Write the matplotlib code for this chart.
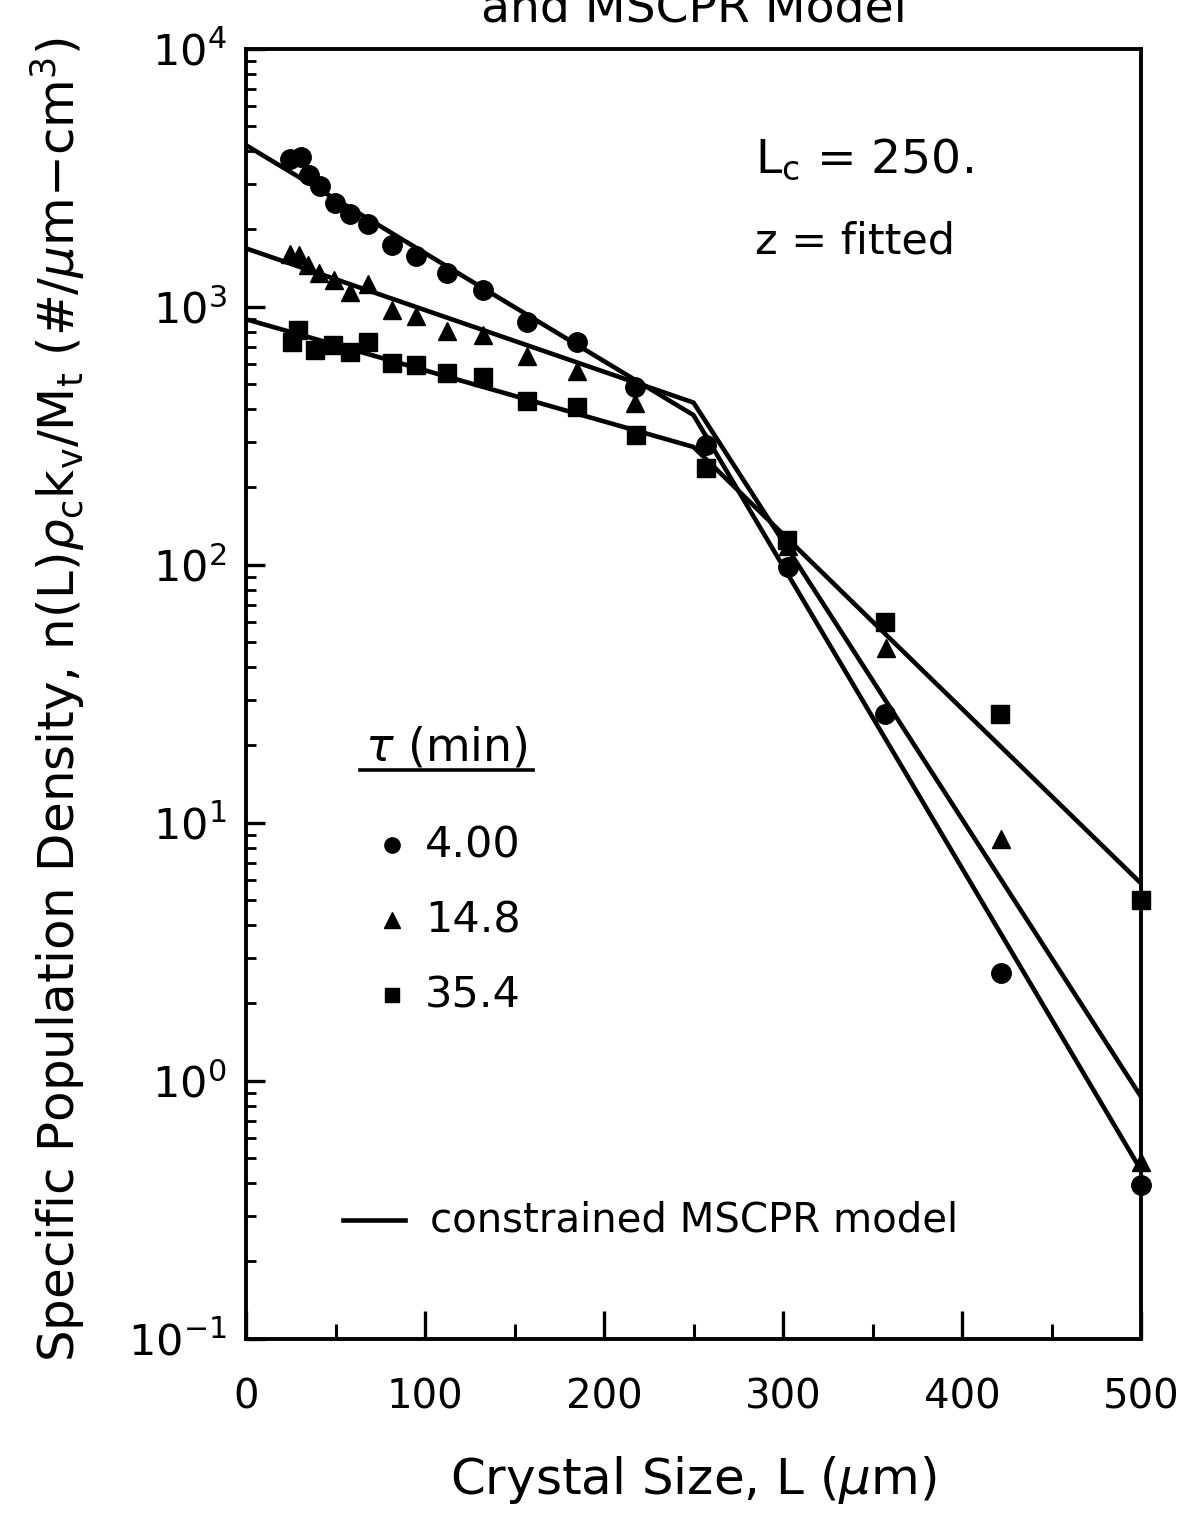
import numpy as np
import matplotlib
matplotlib.use("Agg")
import matplotlib.pyplot as plt
from matplotlib.ticker import LogLocator, MultipleLocator, FixedLocator

plt.rcParams['font.family'] = ['DejaVu Sans']
plt.rcParams['mathtext.fontset'] = 'dejavusans'

# ---- data ----
L_c4 = [24.6, 30.6, 35.2, 41.3, 49.7, 58.1, 68.3, 81.4, 95, 112.5, 132.6, 156.8, 184.7, 217.3, 257, 303, 357, 421.6, 500]
n_c4 = [3727, 3810, 3236, 2938, 2531, 2286, 2092, 1734, 1573, 1346, 1161, 875, 731, 490, 291, 98, 26.5, 2.62, 0.394]

L_t14 = [24.6, 29.8, 34.8, 40.8, 49.3, 58.1, 68.3, 81.4, 95, 112.5, 132.6, 156.8, 184.7, 217.3, 257, 303, 357.4, 421.6, 500]
n_t14 = [1600, 1585, 1451, 1356, 1269, 1143, 1221, 971, 920, 807, 777, 644, 565, 422, 300, 118, 47.4, 8.63, 0.486]

L_s35 = [25.5, 29.2, 38.5, 48.8, 58.1, 68.3, 81.4, 95, 112.1, 132.6, 156.8, 184.7, 217.9, 257, 302, 357, 421.2, 500]
n_s35 = [731, 812, 679, 711, 670, 731, 604, 595, 555, 532, 432, 408, 318, 237, 125, 60, 26.5, 5.0]

# constrained MSCPR model lines (kink at Lc = 250)
L_model = [0, 250, 500]
m_c4 = [4227, 380, 0.45]
m_t14 = [1683, 425, 0.867]
m_s35 = [894, 286, 5.82]

tau_labels = ["4.00", "14.8", "35.4"]
x_ticks = [0, 100, 200, 300, 400, 500]

# ---- figure ----
W, H = 1177, 1515
fig = plt.figure(figsize=(W / 100, H / 100), dpi=100)
x0, x1 = 246, 1141
y0, y1 = 48.7, 1338.7
ax = fig.add_axes([x0 / W, 1 - y1 / H, (x1 - x0) / W, (y1 - y0) / H])

lw = 3.3
for m in (m_c4, m_t14, m_s35):
    ax.plot(L_model, m, color='black', lw=lw, solid_joinstyle='round', zorder=2)

ax.plot(L_c4, n_c4, 'o', color='black', ms=14, ls='none', zorder=3, clip_on=False)
ax.plot(L_t14, n_t14, '^', color='black', ms=13.5, ls='none', zorder=3, clip_on=False)
ax.plot(L_s35, n_s35, 's', color='black', ms=12.5, ls='none', zorder=3, clip_on=False)

ax.set_yscale('log')
ax.set_xlim(0, 500)
ax.set_ylim(0.1, 1e4)

for s in ax.spines.values():
    s.set_linewidth(2.8)

ax.xaxis.set_major_locator(FixedLocator(x_ticks))
ax.xaxis.set_minor_locator(MultipleLocator(50))
ax.yaxis.set_major_locator(LogLocator(base=10, numticks=10))
ax.yaxis.set_minor_locator(LogLocator(base=10, subs=np.arange(2, 10), numticks=20))
ax.yaxis.set_minor_formatter(plt.NullFormatter())

ax.tick_params(axis='x', which='major', direction='in', length=20, width=2.4,
               labelsize=29, pad=28, top=False)
ax.tick_params(axis='x', which='minor', direction='in', length=11, width=2.2, top=False)
ax.tick_params(axis='y', which='major', direction='in', length=14, width=2.4,
               labelsize=31, pad=14, right=False)
ax.tick_params(axis='y', which='minor', direction='in', length=7, width=2.0, right=False)

ax.set_xlabel(r'Crystal Size, L ($\mu$m)', fontsize=36, labelpad=26)
fig.text(58 / W, 1 - 700 / H,
         r'Specific Population Density, n(L)$\rho_\mathrm{c}$k$_\mathrm{v}$/M$_\mathrm{t}$ (#/$\mu$m$-$cm$^3$)',
         rotation=90, fontsize=36, ha='center', va='center')

# partially cut title (cut at the top edge as in the reference)
fig.text(694 / W, 1 - 22 / H, 'and MSCPR Model', fontsize=34, ha='center', va='baseline')

def axx(px):
    return (px - x0) / (x1 - x0)

def axy(py):
    return (y1 - py) / (y1 - y0)

ax.text(axx(755), axy(172), r'L$_\mathrm{c}$ = 250.', transform=ax.transAxes, fontsize=34, va='baseline')
ax.text(axx(755), axy(253), 'z = fitted', transform=ax.transAxes, fontsize=31, va='baseline')

# legend
ax.text(axx(446), axy(760), r'$\tau$ (min)', transform=ax.transAxes, fontsize=33, ha='center', va='baseline')
ax.plot([axx(360), axx(533)], [axy(770), axy(770)], transform=ax.transAxes, color='black', lw=2.6, clip_on=False)
markers = ['o', '^', 's']
sizes = [11, 11, 10]
ys = [845, 920, 995]
for mk, sz, yy, lab in zip(markers, sizes, ys, tau_labels):
    ax.plot([axx(392)], [axy(yy)], mk, color='black', ms=sz, transform=ax.transAxes, clip_on=False)
    ax.text(axx(425), axy(yy), lab, transform=ax.transAxes, fontsize=31, va='center')

ax.plot([axx(343), axx(405)], [axy(1220), axy(1220)], transform=ax.transAxes, color='black', lw=lw)
ax.text(axx(430), axy(1220), 'constrained MSCPR model', transform=ax.transAxes, fontsize=29, va='center')

fig.savefig('out.png', dpi=100)
